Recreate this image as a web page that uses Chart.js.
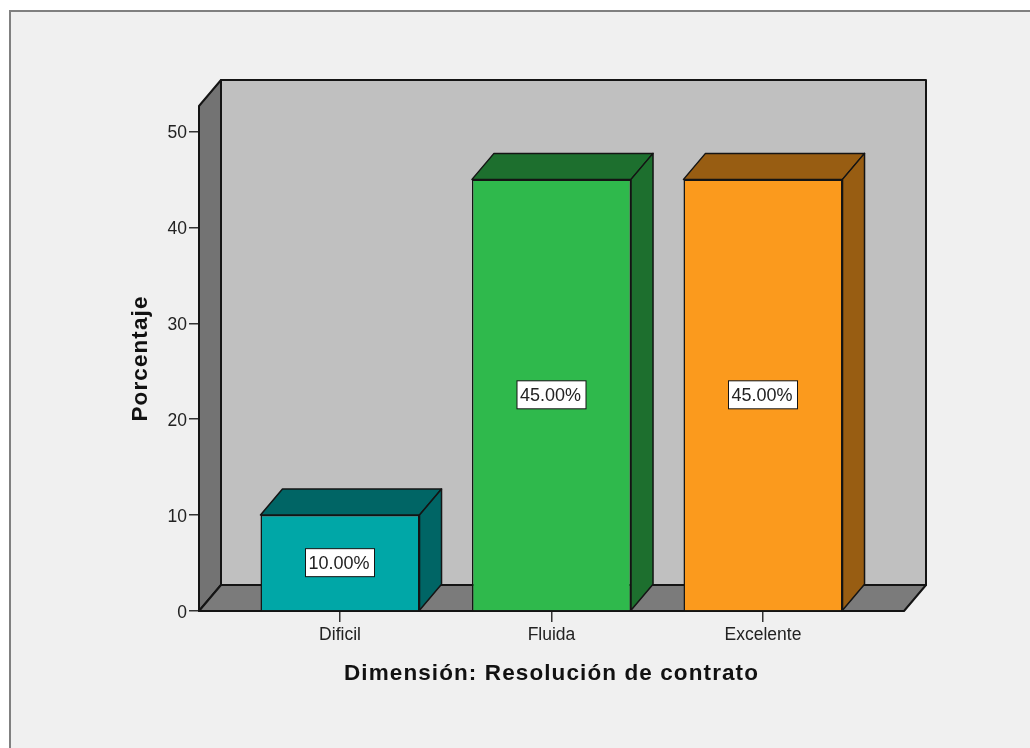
<!DOCTYPE html>
<html>
<head>
<meta charset="utf-8">
<script src="https://cdn.jsdelivr.net/npm/chart.js@4"></script>
<style>
    html, body { margin: 0; padding: 0; background: #ffffff; overflow: hidden; }
    #frame { position: absolute; left: 9px; top: 10px; width: 1021px; height: 738px; box-sizing: border-box; background: #f0f0f0; border-left: 2px solid #808080; border-top: 2px solid #808080; }
    #myChart { position: absolute; left: 0; top: 0; }
</style>
</head>
<body>
<div id="frame"></div>
<canvas id="myChart" width="1030" height="748"></canvas>
<script>
const categories = ['Dificil', 'Fluida', 'Excelente'];
const positions = [1, 2, 3];
const percentages = [10, 45, 45];
const frontColors = ['#00a7a7', '#2fb94c', '#fb9a1d'];
const darkColors = ['#006565', '#1d6f2e', '#985d12'];
const xTitle = 'Dimensión: Resolución de contrato';
const yTitle = 'Porcentaje';

const depthX = 22;
const depthY = 26;
const edgeColor = '#141414';

function face(ctx, points, fill) {
    ctx.beginPath();
    points.forEach((p, i) => i ? ctx.lineTo(p[0], p[1]) : ctx.moveTo(p[0], p[1]));
    ctx.closePath();
    ctx.fillStyle = fill;
    ctx.fill();
    ctx.stroke();
}

// back wall, side wall and floor of the box
const walls = {
    id: 'walls',
    beforeDatasetsDraw(chart) {
        const { ctx, chartArea: a } = chart;
        ctx.save();
        ctx.strokeStyle = edgeColor;
        ctx.lineWidth = 2;
        ctx.lineJoin = 'round';
        face(ctx, [[a.left + depthX, a.top - depthY], [a.right + depthX, a.top - depthY], [a.right + depthX, a.bottom - depthY], [a.left + depthX, a.bottom - depthY]], '#c0c0c0');
        face(ctx, [[a.left, a.top], [a.left + depthX, a.top - depthY], [a.left + depthX, a.bottom - depthY], [a.left, a.bottom]], '#737373');
        face(ctx, [[a.left, a.bottom], [a.left + depthX, a.bottom - depthY], [a.right + depthX, a.bottom - depthY], [a.right, a.bottom]], '#7b7b7b');
        ctx.restore();
    }
};

// top and side of each bar, then the white value box
const bars3d = {
    id: 'bars3d',
    afterDatasetsDraw(chart) {
        const { ctx } = chart;
        ctx.save();
        ctx.strokeStyle = edgeColor;
        chart.getDatasetMeta(0).data.forEach((bar, i) => {
            const l = bar.x - bar.width / 2;
            const r = bar.x + bar.width / 2;
            ctx.lineWidth = 1.5;
            ctx.lineJoin = 'round';
            face(ctx, [[l, bar.y], [l + depthX, bar.y - depthY], [r + depthX, bar.y - depthY], [r, bar.y]], darkColors[i]);
            face(ctx, [[r, bar.y], [r + depthX, bar.y - depthY], [r + depthX, bar.base - depthY], [r, bar.base]], darkColors[i]);

            const text = percentages[i].toFixed(2) + '%';
            const cy = (bar.y + bar.base) / 2;
            ctx.lineWidth = 1;
            ctx.lineJoin = 'miter';
            ctx.fillStyle = '#ffffff';
            ctx.fillRect(bar.x - 34.5, cy - 14, 69, 28);
            ctx.strokeRect(bar.x - 34.5, cy - 14, 69, 28);
            ctx.fillStyle = '#222222';
            ctx.font = '18px "Liberation Sans"';
            ctx.textAlign = 'center';
            ctx.textBaseline = 'middle';
            ctx.fillText(text, bar.x - 1, cy + 1);
        });
        ctx.restore();
    }
};

// axis titles are spaced out in the reference, the built-in title can't do that
const axisTitles = {
    id: 'axisTitles',
    afterDraw(chart) {
        const { ctx, chartArea: a } = chart;
        ctx.save();
        ctx.fillStyle = '#111111';
        ctx.font = 'bold 22.5px "Liberation Sans"';
        ctx.letterSpacing = '1.1px';
        ctx.textAlign = 'center';
        ctx.textBaseline = 'alphabetic';
        ctx.fillText(xTitle, (a.left + a.right) / 2, a.bottom + 69);
        ctx.translate(a.left - 52, (a.top + a.bottom) / 2);
        ctx.rotate(-Math.PI / 2);
        ctx.fillText(yTitle, 0, 0);
        ctx.restore();
    }
};

const data = {
    datasets: [{
        data: positions.map((x, i) => ({ x: x, y: percentages[i] })),
        backgroundColor: frontColors,
        borderColor: edgeColor,
        borderWidth: 1.5,
        barPercentage: 1,
        categoryPercentage: 0.752
    }]
};

const config = {
    type: 'bar',
    data: data,
    options: {
        responsive: false,
        animation: false,
        layout: { padding: { left: 126, right: 126, top: 106, bottom: 61 } },
        plugins: { legend: { display: false }, tooltip: { enabled: false } },
        scales: {
            x: {
                type: 'linear',
                offset: false,
                min: 1 / 3,
                max: 11 / 3,
                afterBuildTicks: (scale) => { scale.ticks = positions.map(v => ({ value: v })); },
                afterFit: (scale) => { scale.height = 76; },
                border: { display: false },
                grid: { offset: false, drawOnChartArea: false, color: '#333333', lineWidth: 1.5, tickLength: 11 },
                ticks: {
                    callback: (v) => categories[v - 1],
                    color: '#222222',
                    font: { family: '"Liberation Sans"', size: 17.5 },
                    maxRotation: 0,
                    padding: 3
                }
            },
            y: {
                min: 0,
                max: 52.65,
                afterFit: (scale) => { scale.width = 73; },
                border: { display: false },
                grid: { drawOnChartArea: false, color: '#333333', lineWidth: 1.5, tickLength: 10 },
                ticks: {
                    stepSize: 10,
                    includeBounds: false,
                    color: '#222222',
                    font: { family: '"Liberation Sans"', size: 17.5 },
                    padding: 2,
                    labelOffset: 2
                }
            }
        }
    },
    plugins: [walls, bars3d, axisTitles]
};

const myChart = new Chart(document.getElementById('myChart'), config);
</script>
</body>
</html>
